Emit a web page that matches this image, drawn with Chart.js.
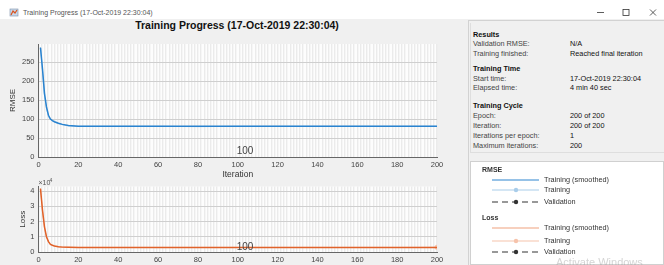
<!DOCTYPE html>
<html>
<head>
<meta charset="utf-8">
<script src="https://cdn.jsdelivr.net/npm/chart.js@4.4.1/dist/chart.umd.min.js"></script>
<style>
  body { margin: 0; width: 664px; height: 265px; overflow: hidden; background: #f0f0f0;
         font-family: "Liberation Sans", Arial, sans-serif; position: relative; }
  .abs { position: absolute; white-space: nowrap; }
  #titlebar { left: 0; top: 0; width: 664px; height: 19px; background: #fff; }
  #wintitle { left: 23px; top: 8px; font-size: 7px; color: #555; line-height: 10px; }
  #maintitle { left: 0; width: 474px; top: 18px; text-align: center; font-size: 10.5px; font-weight: bold; color: #111; line-height: 14px; }
  #side { left: 468px; top: 20px; width: 196px; height: 245px; border-left: 1px solid #d2d2d2; border-top: 1px solid #d2d2d2; background: #f0f0f0; box-sizing: border-box; }
  #info { left: 470px; top: 23px; width: 194px; height: 130px; border-left: 1px solid #dedede; border-bottom: 1px solid #dedede; box-sizing: border-box; }
  #legendbox { left: 470px; top: 161px; width: 194px; height: 104px; background: #fff; border: 1px solid #d0d0d0; box-sizing: border-box; }
  .row { font-size: 7.3px; line-height: 10px; color: #444; }
  .head { font-weight: bold; color: #111; }
  .val { color: #111; }
  .lg { font-size: 7.3px; line-height: 10px; color: #333; }
  #watermark { left: 556px; top: 256px; font-size: 11px; color: rgba(160,160,160,0.45); }
</style>
</head>
<body>
<div class="abs" id="titlebar"></div>
<svg class="abs" style="left:0;top:0" width="664" height="20">
  <rect x="10" y="9" width="8" height="7" fill="#c9d9ec" stroke="#7a8fa8" stroke-width="0.6"/>
  <path d="M11 15 L13 11 L15 13 L17 10" stroke="#d9531e" stroke-width="1.2" fill="none"/>
  <line x1="597" y1="12.5" x2="604" y2="12.5" stroke="#333" stroke-width="0.8"/>
  <rect x="623" y="9.5" width="6" height="6" fill="none" stroke="#333" stroke-width="0.8"/>
  <path d="M650 9.5 L656 15.5 M656 9.5 L650 15.5" stroke="#333" stroke-width="0.8"/>
</svg>
<div class="abs" id="wintitle">Training Progress (17-Oct-2019 22:30:04)</div>
<div class="abs" id="maintitle">Training Progress (17-Oct-2019 22:30:04)</div>

<div class="abs" style="left:0;top:28px;width:460px;height:152px"><canvas id="rmseChart" width="460" height="152"></canvas></div>
<div class="abs" style="left:0;top:178px;width:460px;height:87px"><canvas id="lossChart" width="460" height="87"></canvas></div>

<div class="abs" id="side"></div>
<div class="abs" id="info"></div>
<div class="abs row head" style="left:473px;top:30px">Results</div>
<div class="abs row" style="left:473px;top:39px">Validation RMSE:</div>
<div class="abs row val" style="left:570px;top:39px">N/A</div>
<div class="abs row" style="left:473px;top:49px">Training finished:</div>
<div class="abs row val" style="left:570px;top:49px">Reached final iteration</div>
<div class="abs row head" style="left:473px;top:64px">Training Time</div>
<div class="abs row" style="left:473px;top:74px">Start time:</div>
<div class="abs row val" style="left:570px;top:74px">17-Oct-2019 22:30:04</div>
<div class="abs row" style="left:473px;top:83px">Elapsed time:</div>
<div class="abs row val" style="left:570px;top:83px">4 min 40 sec</div>
<div class="abs row head" style="left:473px;top:101px">Training Cycle</div>
<div class="abs row" style="left:473px;top:111px">Epoch:</div>
<div class="abs row val" style="left:570px;top:111px">200 of 200</div>
<div class="abs row" style="left:473px;top:121px">Iteration:</div>
<div class="abs row val" style="left:570px;top:121px">200 of 200</div>
<div class="abs row" style="left:473px;top:131px">Iterations per epoch:</div>
<div class="abs row val" style="left:570px;top:131px">1</div>
<div class="abs row" style="left:473px;top:141px">Maximum iterations:</div>
<div class="abs row val" style="left:570px;top:141px">200</div>

<div class="abs" id="legendbox"></div>
<svg class="abs" style="left:470px;top:161px" width="194" height="104">
  <line x1="22" y1="19" x2="69" y2="19" stroke="#2f86cf" stroke-width="1.2"/>
  <line x1="22" y1="29" x2="69" y2="29" stroke="#a9cdea" stroke-width="1.2"/>
  <circle cx="46" cy="29" r="2.2" fill="#a9cdea"/>
  <line x1="22" y1="41" x2="69" y2="41" stroke="#333" stroke-width="1.1" stroke-dasharray="6,4"/>
  <circle cx="46" cy="41" r="2.2" fill="#333"/>
  <line x1="22" y1="67" x2="69" y2="67" stroke="#f0a27f" stroke-width="1.2"/>
  <line x1="22" y1="80" x2="69" y2="80" stroke="#f6c3ab" stroke-width="1.2"/>
  <circle cx="46" cy="80" r="2.2" fill="#f6c3ab"/>
  <line x1="22" y1="91" x2="69" y2="91" stroke="#333" stroke-width="1.1" stroke-dasharray="6,4"/>
  <circle cx="46" cy="91" r="2.2" fill="#333"/>
</svg>
<div class="abs lg head" style="left:482px;top:165px;font-size:7px">RMSE</div>
<div class="abs lg" style="left:544px;top:175px">Training (smoothed)</div>
<div class="abs lg" style="left:544px;top:185px">Training</div>
<div class="abs lg" style="left:544px;top:197px">Validation</div>
<div class="abs lg head" style="left:482px;top:213px;font-size:7px">Loss</div>
<div class="abs lg" style="left:544px;top:223px">Training (smoothed)</div>
<div class="abs lg" style="left:544px;top:236px">Training</div>
<div class="abs lg" style="left:544px;top:247px">Validation</div>
<div class="abs" id="watermark">Activate Windows</div>

<script>
// values
const iterationTicks = [0, 20, 40, 60, 80, 100, 120, 140, 160, 180, 200];
const rmseTicks = [0, 50, 100, 150, 200, 250];
const lossTicks = [0, 1, 2, 3, 4];

const rmseIter = [1, 2, 3, 4, 5, 6, 7, 8, 10, 12, 15, 20, 40, 60, 80, 100, 120, 140, 160, 180, 200];
const rmseSmoothed = [288, 232, 168, 132, 110, 100, 96, 93, 89, 86, 83, 81, 81, 81, 81, 81, 81, 81, 81, 81, 81];
const rmseTraining = [290, 228, 162, 128, 106, 99, 95, 92, 88, 85, 82, 81, 81, 81, 80, 81, 81, 81, 81, 81, 81];

const lossIter = [1, 2, 3, 4, 5, 6, 7, 8, 10, 12, 15, 20, 40, 60, 80, 100, 120, 140, 160, 180, 200];
const lossSmoothed = [4.15, 2.75, 1.65, 1.0, 0.68, 0.5, 0.44, 0.4, 0.35, 0.32, 0.31, 0.3, 0.3, 0.3, 0.3, 0.3, 0.3, 0.3, 0.3, 0.3, 0.3];
const lossTraining = [4.2, 2.7, 1.6, 0.98, 0.66, 0.49, 0.43, 0.39, 0.34, 0.32, 0.31, 0.3, 0.3, 0.3, 0.3, 0.3, 0.3, 0.3, 0.3, 0.3, 0.31];

const FONT = 'Liberation Sans';
const pts = (xs, ys) => xs.map((x, i) => ({ x: x, y: ys[i] }));

// plot background + the "100" epoch marker + exponent label
const plotDeco = {
  id: 'plotDeco',
  beforeDraw(chart) {
    const a = chart.chartArea, ctx = chart.ctx;
    ctx.save();
    ctx.fillStyle = '#fdfdfd';
    ctx.fillRect(a.left, a.top, a.right - a.left, a.bottom - a.top);
    ctx.restore();
  },
  afterDatasetsDraw(chart, args, opts) {
    const a = chart.chartArea, ctx = chart.ctx;
    const x = chart.scales.x.getPixelForValue(100);
    ctx.save();
    ctx.fillStyle = '#444';
    ctx.font = '10px ' + FONT;
    ctx.textBaseline = 'middle';
    ctx.fillText('100', x - 1, a.bottom - opts.markGap);
    if (opts.exponent) {
      ctx.font = '7px ' + FONT;
      ctx.fillStyle = '#555';
      ctx.fillText('\u00d710', a.left, a.top - 3);
      ctx.font = '5px ' + FONT;
      ctx.fillText('4', a.left + 11, a.top - 6);
    }
    ctx.restore();
  }
};

function makeOptions(cfg) {
  return {
    responsive: false,
    animation: false,
    events: [],
    layout: { padding: { top: cfg.padTop, right: 23, left: 0, bottom: 0 } },
    plugins: { legend: { display: false }, tooltip: { enabled: false },
               plotDeco: { markGap: cfg.markGap, exponent: cfg.exponent } },
    scales: {
      x: {
        type: 'linear', min: 0, max: 200, position: 'bottom',
        afterBuildTicks: s => { s.ticks = iterationTicks.map(v => ({ value: v })); },
        afterFit: s => { s.height = cfg.xHeight; },
        grid: { display: false, drawTicks: false },
        border: { color: '#666', width: 1 },
        ticks: { font: { family: FONT, size: 7.5 }, color: '#444', padding: 3, maxRotation: 0 },
        title: { display: cfg.xTitle, text: 'Iteration', font: { family: FONT, size: 8.5 }, color: '#333', padding: 0 }
      },
      stripes: {
        type: 'linear', min: 0, max: 200, position: 'bottom',
        afterFit: s => { s.height = 0; },
        ticks: { display: false, stepSize: 1.6 },
        grid: { color: '#ebebeb', lineWidth: 1.4, drawTicks: false },
        border: { display: false }
      },
      y: {
        min: 0, max: cfg.yMax,
        afterBuildTicks: s => { s.ticks = cfg.yTicks.map(v => ({ value: v })); },
        afterFit: s => { s.width = 38.5; },
        grid: { color: '#cfcfcf', lineWidth: 1, drawTicks: false },
        border: { color: '#666', width: 1 },
        ticks: { font: { family: FONT, size: 7.5 }, color: '#444', padding: 4 },
        title: { display: true, text: cfg.yTitle, font: { family: FONT, size: 8 }, color: '#333',
                 padding: { top: cfg.yTitlePad, bottom: 0 } }
      }
    }
  };
}

// dataset 0 is drawn on top in Chart.js, so the smoothed line comes first
new Chart(document.getElementById('rmseChart'), {
  type: 'line',
  data: {
    datasets: [
      { label: 'Training (smoothed)', data: pts(rmseIter, rmseSmoothed), borderColor: '#2a83cf', borderWidth: 1.5, pointRadius: 0 },
      { label: 'Training', data: pts(rmseIter, rmseTraining), borderColor: '#a9cdea', borderWidth: 1, pointRadius: 0 }
    ]
  },
  options: makeOptions({ padTop: 16, xHeight: 23, xTitle: true, yMax: 298, yTicks: rmseTicks,
                         yTitle: 'RMSE', yTitlePad: 8, markGap: 6, exponent: false }),
  plugins: [plotDeco]
});

new Chart(document.getElementById('lossChart'), {
  type: 'line',
  data: {
    datasets: [
      { label: 'Training (smoothed)', data: pts(lossIter, lossSmoothed), borderColor: '#e0622a', borderWidth: 1.5, pointRadius: 0 },
      { label: 'Training', data: pts(lossIter, lossTraining), borderColor: '#f6c3ab', borderWidth: 1,
        pointRadius: ctx => ctx.dataIndex === lossIter.length - 1 ? 2.5 : 0, pointBackgroundColor: '#f6c3ab', pointBorderWidth: 0 }
    ]
  },
  options: makeOptions({ padTop: 8, xHeight: 13, xTitle: false, yMax: 4.3, yTicks: lossTicks,
                         yTitle: 'Loss', yTitlePad: 18, markGap: 5, exponent: true }),
  plugins: [plotDeco]
});
</script>
</body>
</html>
